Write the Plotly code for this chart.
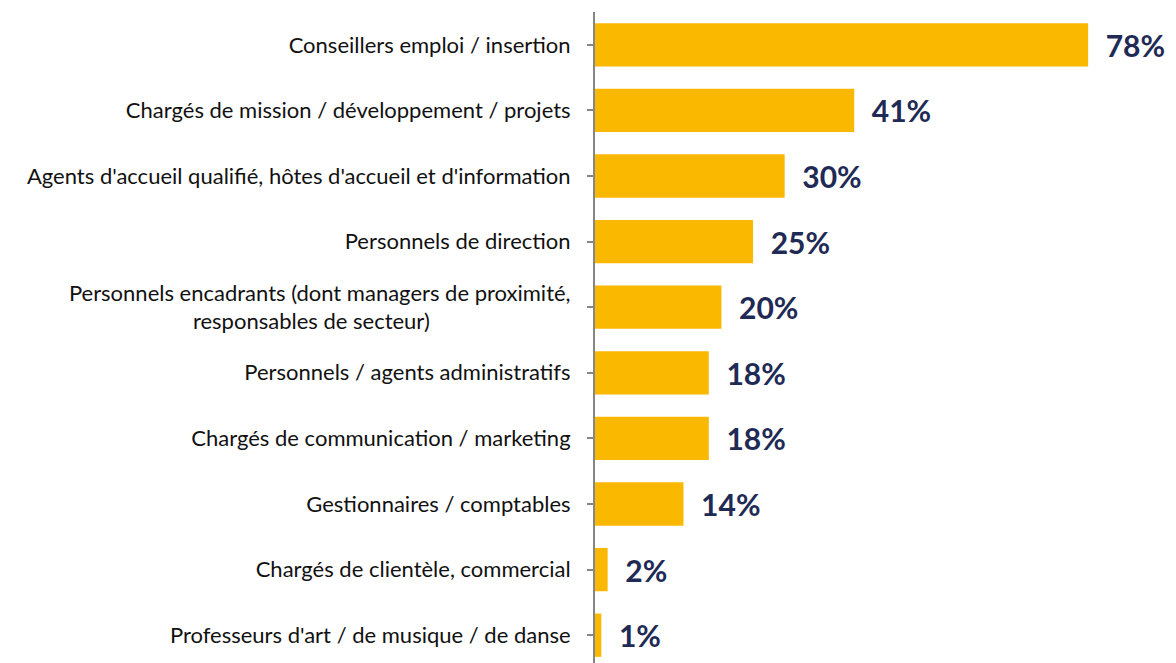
import plotly.graph_objects as go

NBSP = "\u00a0"

categories = [
    "Conseillers emploi / insertion",
    "Chargés de mission / développement / projets",
    "Agents d'accueil qualifié, hôtes d'accueil et d'information",
    "Personnels de direction",
    "Personnels encadrants (dont managers de proximité,<br>responsables de secteur)" + NBSP * 25,
    "Personnels / agents administratifs",
    "Chargés de communication / marketing",
    "Gestionnaires / comptables",
    "Chargés de clientèle, commercial",
    "Professeurs d'art / de musique / de danse",
]
values = [78, 41, 30, 25, 20, 18, 18, 14, 2, 1]

bar_color = '#FAB800'
label_color = '#1F2A55'

fig = go.Figure()
fig.add_trace(go.Bar(
    y=list(range(len(categories))),
    x=values,
    orientation='h',
    width=0.66,
    marker=dict(color=bar_color, line=dict(width=0)),
    text=[f"{v}%" for v in values],
    texttemplate="  %{text}",
    textposition='outside',
    textfont=dict(family="Lato", size=30, color=label_color, weight="bold"),
    cliponaxis=False,
    hoverinfo='skip',
))

fig.update_layout(
    width=1176,
    height=663,
    margin=dict(l=595, r=12, t=12, b=0),
    paper_bgcolor='white',
    plot_bgcolor='white',
    showlegend=False,
    xaxis=dict(visible=False, range=[0, 90]),
    yaxis=dict(
        range=[9.424, -0.5],
        tickmode='array',
        tickvals=list(range(len(categories))),
        ticktext=categories,
        tickson='boundaries',
        ticks='outside',
        ticklen=6,
        tickwidth=2,
        tickcolor='#868686',
        showline=True,
        linecolor='#868686',
        linewidth=2,
        showgrid=False,
        zeroline=False,
        ticklabelstandoff=12,
        tickfont=dict(family="Lato", size=22, color='#111111'),
    ),
)

fig.write_html("out.html", config={'displayModeBar': False},
               post_script="document.body.style.margin='0px';")
